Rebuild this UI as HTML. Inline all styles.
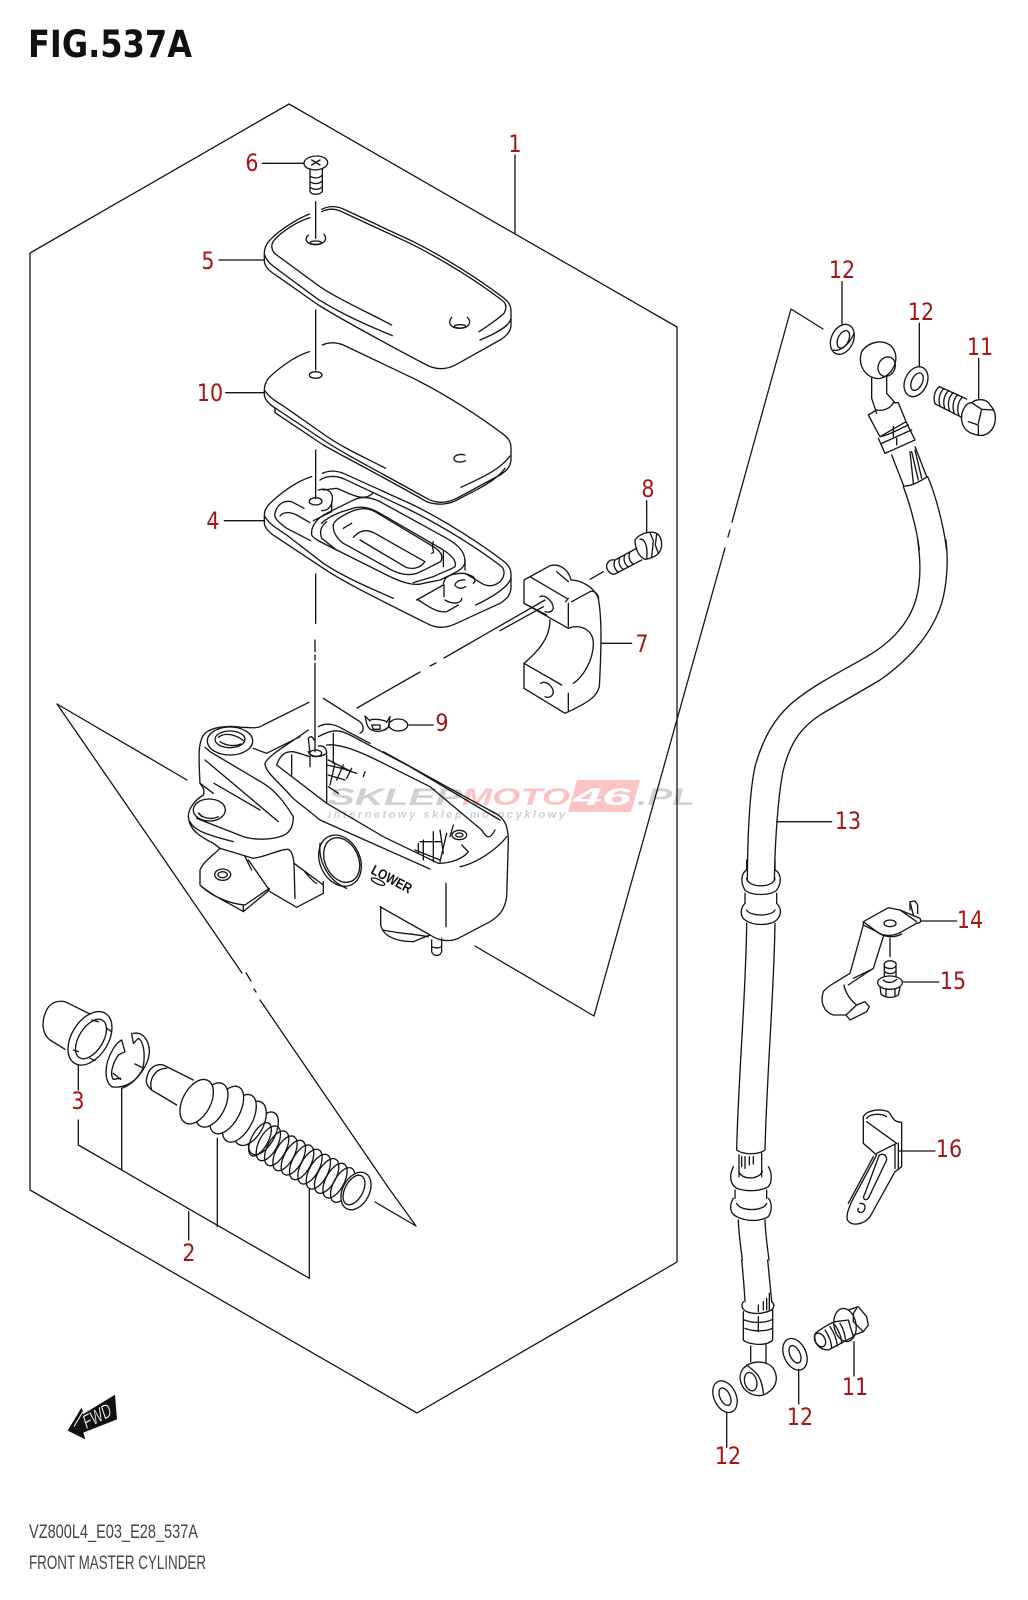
<!DOCTYPE html>
<html><head><meta charset="utf-8"><style>
html,body{margin:0;padding:0;background:#fff}
svg{display:block}
.l{fill:none;stroke:#151515;stroke-width:1.3;stroke-linecap:round;stroke-linejoin:round}
.z{fill:none;stroke:#151515;stroke-width:4;stroke-linecap:round;stroke-linejoin:round}
.w{fill:#fff}
.n{font-family:"DejaVu Sans",sans-serif;font-size:24px;fill:#a51515;text-anchor:middle}
</style></head><body>
<svg width="1028" height="1600" viewBox="0 0 1028 1600" xmlns="http://www.w3.org/2000/svg">
<rect width="1028" height="1600" fill="#fff"/>
<!-- watermark -->
<g font-family="'Liberation Sans',sans-serif" font-style="italic" font-weight="bold">
<polygon points="577,780 640,780 631,812 568,812" fill="#fbc4c4"/>
<text x="328" y="805" font-size="24" fill="#d0d0d0" textLength="134" lengthAdjust="spacingAndGlyphs">SKLEP</text>
<text x="462" y="805" font-size="24" fill="#fbc4c4" textLength="108" lengthAdjust="spacingAndGlyphs">MOTO</text>
<text x="573" y="805" font-size="24" fill="#fff" textLength="58" lengthAdjust="spacingAndGlyphs">46</text>
<text x="637" y="805" font-size="24" fill="#d0d0d0" textLength="58" lengthAdjust="spacingAndGlyphs">.PL</text>
<text x="328" y="818" font-size="11" fill="#cfcfcf" textLength="237">internetowy sklep motocyklowy</text>
</g>
<!-- frame -->
<path class="l" d="M30,253 L289,104 L677,327 L677,1262 L417,1413 L30,1190 Z"/>
<path class="l" d="M57,704 L187,780 M57,704 L170,868 M170,868 L242,973 M260,1000 L390,1190 L416,1226 L375,1202"/>
<path class="l" d="M246,973 L251,981 M254,989 L256,992"/>
<path class="l" d="M823,329 L791,309 L732,522 M730,530 L728,537 M725,548 L594,1016 L475,946"/>
<path class="l" d="M545,600 L444,658 M436,663 L430,666 M420,672 L357,708"/>
<!-- zoom1 cover parts -->
<g transform="translate(180 130) scale(.33333)">
<g class="z">
<path d="M117,390H253 M137,788H253 M133,1172H253 M247,100H372 M1005,75V310"/>
<path d="M407,215V325 M407,540V720 M407,960V1105 M407,1332V1480"/>
<!-- screw -->
<path d="M372,100 C372,85 395,78 410,78 C430,78 443,88 443,98 C443,108 430,118 407,120 C385,118 372,112 372,100Z"/>
<path d="M395,90L420,105M420,90L395,105"/>
<path d="M390,120V185C395,195 420,195 427,185V115M390,138C400,146 418,146 427,135M390,155C400,163 418,163 427,152M390,172C400,180 418,180 427,170"/>
<!-- cap 5 -->
<path d="M388,252C345,270 300,300 275,325C258,340 253,355 253,370L253,395C255,410 270,425 290,437L415,525C480,565 560,610 740,705C770,720 800,720 830,703L960,630C985,615 993,600 993,585L993,545C993,525 985,515 970,503C900,450 800,385 700,335L490,237C465,226 445,228 425,238"/>
<path d="M390,263C350,275 305,305 283,330C270,345 275,365 290,375L420,470C480,510 560,545 635,585"/>
<path d="M253,372C260,395 275,405 295,420L410,505C480,550 560,585 637,617"/>
<path d="M425,245C445,235 465,235 485,245L690,340C800,395 900,460 965,510C980,520 980,535 972,550C950,570 920,590 897,605"/>
<path d="M993,565C990,585 960,605 900,630"/>
<path d="M385,315C372,328 378,343 407,344C430,343 445,330 432,313"/>
<ellipse cx="407" cy="338" rx="17" ry="5"/>
<path d="M815,562C800,580 815,595 838,595C865,595 878,578 862,562"/>
<ellipse cx="840" cy="589" rx="17" ry="5"/>
<!-- gasket 10 -->
<path d="M388,665C340,680 290,720 265,745C255,760 253,770 253,780L253,795C255,810 270,825 290,837L430,930C490,970 560,1005 740,1105C770,1122 800,1120 830,1105L960,1035C985,1020 993,1005 993,985L993,955C993,935 985,925 970,913C900,860 800,795 700,745L490,645C465,635 445,637 427,645"/>
<path d="M255,783C270,805 295,818 320,835L430,912C490,955 560,985 617,1015"/>
<path d="M843,1072C900,1045 960,1020 990,978"/>
<path d="M285,835V848L430,945C500,985 600,1035 740,1115C770,1127 810,1125 840,1105C900,1075 950,1050 975,1015"/>
<ellipse cx="407" cy="735" rx="19" ry="10"/>
<path d="M855,975C835,970 820,978 822,988C825,998 845,998 857,992"/>
<!-- gasket 4 -->
<path d="M395,1040C345,1055 295,1095 265,1125C253,1140 253,1150 253,1160L253,1180C255,1195 270,1210 290,1222L430,1315C490,1355 560,1390 740,1480C770,1497 800,1495 830,1480L960,1420C985,1405 993,1390 993,1370L993,1335C993,1315 985,1305 970,1293C900,1240 800,1175 700,1125L490,1030C465,1020 445,1022 427,1030"/>
<path d="M255,1160C270,1185 295,1198 320,1215L430,1300C490,1340 560,1370 640,1405"/>
<path d="M993,1345C985,1370 940,1400 887,1425"/>
<path d="M420,1050C440,1036 470,1036 495,1048L690,1140C800,1195 900,1260 965,1310C975,1320 975,1340 960,1355C945,1368 925,1372 905,1360L855,1330"/>
<path d="M285,1150C290,1125 310,1110 335,1115L372,1135M300,1158C310,1145 330,1145 350,1155L390,1178M285,1150C280,1165 300,1180 320,1195L392,1232"/>
<path d="M415,1080C440,1072 465,1085 455,1120C450,1135 440,1142 425,1142M455,1115V1145L400,1172M430,1080L470,1075C500,1085 550,1120 578,1090"/>
<ellipse cx="407" cy="1114" rx="19" ry="11"/>
<path d="M395,1215C392,1190 410,1165 440,1150L525,1108C550,1098 575,1103 600,1115L800,1225C835,1245 855,1265 855,1295C855,1320 810,1335 780,1350L730,1360C700,1370 660,1355 620,1335L440,1245C420,1235 400,1225 395,1215Z"/>
<path d="M424,1180C440,1165 460,1155 480,1147L525,1133C550,1128 575,1135 600,1150L790,1260C820,1280 830,1295 825,1310C810,1320 790,1325 760,1340L700,1358"/>
<path d="M472,1262L425,1225C418,1205 422,1190 440,1175"/>
<path d="M460,1185C462,1170 490,1155 520,1142C550,1132 570,1135 590,1148L760,1250C785,1265 790,1280 782,1295C760,1305 740,1318 710,1330C680,1340 650,1330 620,1312L490,1240C470,1225 458,1205 460,1185Z"/>
<path d="M490,1195L515,1180M520,1222C545,1195 565,1200 585,1210L735,1295C720,1315 700,1318 680,1313L540,1230"/>
<path d="M755,1270C770,1265 750,1260 760,1235M790,1265V1310M855,1290V1320"/>
<path d="M710,1410L790,1365C790,1340 815,1330 850,1330C875,1335 895,1345 880,1360M792,1365V1400M795,1410C820,1425 845,1420 845,1405"/>
<path d="M855,1350C835,1348 825,1360 825,1365C830,1375 845,1378 857,1370"/>
<path d="M715,1410C740,1425 770,1450 800,1445L835,1425"/>
</g>
</g>
<!-- clamp / bolt -->
<g transform="translate(500 470) scale(.33333)" class="z">
<path d="M440,92V185"/>
<path d="M395,520H305"/>
<path d="M72,330L150,287C175,280 205,295 213,330C235,330 280,345 295,385C305,440 305,520 298,650C290,680 270,695 195,730L72,655V580C120,540 150,500 150,450M72,330V400L205,475C240,460 280,480 280,520C280,570 250,620 220,640"/>
<path d="M90,320L200,385M72,400L140,435M170,305L205,335M215,395L270,365C285,360 295,375 296,385M205,400V470M205,385L197,395"/>
<path d="M72,580L185,645M205,670V725"/>
<path d="M120,380C135,372 160,395 160,415C155,428 145,428 135,425"/>
<path d="M122,640C138,630 160,650 160,668C155,685 140,683 135,680"/>
<path d="M270,328L310,305"/>
<path d="M320,285C325,270 335,268 345,270L410,235M345,312L425,270M320,285C318,300 332,315 345,312"/>
<path d="M345,270C338,285 345,300 355,306M360,262C353,277 360,292 370,298M375,254C368,269 375,284 385,290M390,246C383,261 390,276 400,282"/>
<path d="M405,210C415,195 445,180 470,190C490,205 490,240 470,255C460,262 445,268 435,268C420,262 405,240 405,210Z"/>
<path d="M420,208C432,205 445,225 440,265M450,188L460,212L455,262M470,192L466,225L475,250"/>
<path d="M0,482L130,410"/>
</g>
<!-- body -->
<g transform="translate(170 640) scale(.33333)" class="z">
<path d="M435,0V35 M435,45V60 M435,70V335"/>
<path d="M713,255H790"/>
<path d="M490,280V370"/>
<!-- bracket upper -->
<path d="M417,187L280,255C260,268 240,262 215,262C170,255 125,262 105,280C85,300 85,340 90,430C100,445 105,450 100,465C75,480 55,505 55,530C58,570 90,590 130,610L150,625L250,655C290,650 335,625 355,628C365,632 370,650 372,670"/>
<path d="M460,175L570,245C585,260 580,275 570,280"/>
<ellipse cx="180" cy="303" rx="68" ry="42"/>
<ellipse cx="180" cy="298" rx="45" ry="25"/>
<path d="M145,292C165,275 200,285 220,302M150,305C170,318 195,320 212,312"/>
<path d="M105,322L120,335L280,430C320,455 345,490 370,530C370,570 350,585 330,590C300,600 250,600 220,590L80,535"/>
<path d="M105,360L325,545M132,430L270,510M90,430L130,460M250,325L290,340L390,290"/>
<ellipse cx="118" cy="510" rx="48" ry="33"/>
<path d="M85,520C100,535 125,540 145,530M95,530L88,520"/>
<path d="M60,545C70,570 110,585 190,605"/>
<!-- lower lug -->
<path d="M150,625C125,650 100,665 90,690L90,735C130,770 180,790 220,815L298,750L235,660M90,735C120,765 170,790 225,795L298,745M220,795V815"/>
<ellipse cx="158" cy="704" rx="24" ry="17"/>
<ellipse cx="158" cy="704" rx="14" ry="9"/>
<path d="M225,650C230,660 240,680 245,690M300,755L380,802L460,760V725M372,670L375,775M372,670L460,735M400,690C420,715 430,725 440,730"/>
<!-- reservoir -->
<path d="M285,370C295,345 360,310 415,270M445,260C470,245 500,255 520,268L600,310M640,335L830,440L985,525C1005,540 1015,560 1015,605L1010,770C1005,810 985,830 960,845L865,895C840,905 810,905 780,885L630,800"/>
<path d="M285,370C285,395 320,420 360,465C365,475 390,490 450,540L780,687"/>
<path d="M320,375C330,345 345,335 365,335C380,335 400,345 420,350M320,375L470,490L640,590L805,670C845,670 880,655 895,635L875,615"/>
<path d="M445,290C490,265 510,270 540,285L720,380L990,540"/>
<path d="M470,315C510,310 570,335 620,360L780,440L935,570C950,595 960,600 975,570"/>
<path d="M870,680C920,670 985,625 1010,590"/>
<path d="M420,340L415,295C420,290 425,285 432,300"/>
<path d="M415,335C418,350 450,355 470,340C470,325 460,315 445,318"/>
<ellipse cx="437" cy="340" rx="18" ry="10"/>
<path d="M420,350V380M470,345V490M365,345V405"/>
<path d="M470,375L515,385L560,400M475,360L545,395M495,370L480,435M520,375L500,420M545,385L530,415M585,395L580,410M475,440L505,460M475,405L525,420"/>
<path d="M745,610V640M760,600V660M790,575V665M810,570L820,640M830,580L810,665M750,605H815M735,630L810,660M850,555L840,590"/>
<ellipse cx="868" cy="585" rx="22" ry="14"/>
<ellipse cx="868" cy="585" rx="11" ry="6"/>
<!-- sight window -->
<ellipse cx="510" cy="662" rx="60" ry="80" transform="rotate(-25 510 662)"/>
<ellipse cx="515" cy="660" rx="50" ry="70" transform="rotate(-25 515 660)"/>
<path d="M450,610C445,660 470,720 530,745"/>
<path d="M828,730V860M632,800V855C640,890 680,905 730,905L780,885"/>
<path d="M640,870C680,880 720,880 775,890"/>
<path d="M785,900V935C790,950 810,950 815,935V895M785,920C795,925 805,925 815,920"/>
<ellipse cx="624" cy="725" rx="22" ry="7" transform="rotate(25 624 725)"/>
<!-- clip 9 -->
<path d="M585,228C590,250 590,262 605,270C625,280 645,270 655,262L660,230M600,240C615,235 640,240 650,245M605,255L630,255V268H610Z"/>
<ellipse cx="685" cy="255" rx="28" ry="18"/>
<path d="M655,262L645,270M585,228L600,243M660,230L650,247"/>
</g>
<g font-family="'Liberation Sans',sans-serif" font-weight="bold" fill="#111">
<text transform="translate(370 873) rotate(28)" font-size="14" textLength="44" lengthAdjust="spacingAndGlyphs">LOWER</text>
</g>
<!-- boot, circlip, piston, spring -->
<g transform="translate(30 990) scale(.33333)" class="z">
<path d="M145,225V300 M145,390V465L838,865V595 M275,295V540 M562,445V710 M476,665V750"/>
<path d="M105,178L60,150C40,135 30,100 50,60C60,40 80,30 105,35L180,72"/>
<ellipse cx="180" cy="145" rx="55" ry="88" transform="rotate(32 180 145)"/>
<ellipse cx="183" cy="147" rx="36" ry="66" transform="rotate(32 183 147)"/>
<path d="M185,90L205,95M230,115L245,125M130,180L145,185M180,205L195,212"/>
<path d="M305,130L310,160L325,145C350,160 345,240 330,250C310,285 270,295 245,290C220,270 225,220 245,185C255,165 265,155 275,150L285,185L265,195C245,225 240,255 250,268L272,265"/>
<path d="M310,130C335,125 355,145 358,180C360,220 320,280 275,295M315,222L335,232M250,250L272,268"/>
<path d="M440,345L385,312C360,300 345,285 350,265C355,235 375,220 400,225L490,270"/>
<path d="M365,300C355,270 375,235 410,235"/>
<g class="w">
<ellipse cx="700" cy="430" rx="35" ry="70" transform="rotate(28 700 430)"/>
<ellipse cx="660" cy="400" rx="40" ry="72" transform="rotate(28 660 400)"/>
<ellipse cx="628" cy="385" rx="40" ry="78" transform="rotate(28 628 385)"/>
<ellipse cx="590" cy="360" rx="40" ry="78" transform="rotate(28 590 360)"/>
<ellipse cx="545" cy="345" rx="40" ry="72" transform="rotate(28 545 345)"/>
<ellipse cx="500" cy="335" rx="42" ry="72" transform="rotate(28 500 335)"/>
</g>
<g>
<ellipse cx="690" cy="448" rx="25" ry="55" transform="rotate(28 690 448)"/>
<ellipse cx="715" cy="460" rx="28" ry="57" transform="rotate(28 715 460)"/>
<ellipse cx="740" cy="475" rx="28" ry="57" transform="rotate(28 740 475)"/>
<ellipse cx="765" cy="490" rx="28" ry="57" transform="rotate(28 765 490)"/>
<ellipse cx="790" cy="503" rx="28" ry="57" transform="rotate(28 790 503)"/>
<ellipse cx="815" cy="517" rx="28" ry="57" transform="rotate(28 815 517)"/>
<ellipse cx="840" cy="530" rx="28" ry="57" transform="rotate(28 840 530)"/>
<ellipse cx="865" cy="545" rx="28" ry="57" transform="rotate(28 865 545)"/>
<ellipse cx="890" cy="558" rx="28" ry="57" transform="rotate(28 890 558)"/>
<ellipse cx="915" cy="572" rx="28" ry="57" transform="rotate(28 915 572)"/>
<ellipse cx="938" cy="585" rx="28" ry="57" transform="rotate(28 938 585)"/>
</g>
<ellipse cx="978" cy="603" rx="40" ry="60" transform="rotate(28 978 603)" class="w"/>
<ellipse cx="972" cy="600" rx="27" ry="48" transform="rotate(28 972 600)"/>
</g>
<!-- upper hose end -->
<g transform="translate(780 250) scale(.33333)" class="z">
<path d="M186,95V225 M418,220V350 M596,325V445"/>
<ellipse cx="187" cy="268" rx="33" ry="47" transform="rotate(25 187 268)"/>
<ellipse cx="190" cy="268" rx="16" ry="28" transform="rotate(25 190 268)"/>
<path d="M160,300C175,305 205,290 222,250"/>
<ellipse cx="408" cy="395" rx="33" ry="47" transform="rotate(25 408 395)"/>
<ellipse cx="411" cy="395" rx="16" ry="28" transform="rotate(25 411 395)"/>
<path d="M272,380C245,365 235,335 245,305C265,275 310,265 335,290C360,320 345,360 315,380C295,390 285,385 272,380Z"/>
<ellipse cx="320" cy="350" rx="25" ry="30" transform="rotate(25 320 350)"/>
<path d="M275,385V445L290,490M320,378V430L345,458"/>
<path d="M265,495L290,480C315,485 335,470 340,458L355,458L378,515L300,560Z"/>
<path d="M378,515L405,570L315,610L295,565M300,560C330,555 360,535 385,525M305,580C340,565 370,550 395,540"/>
<path d="M340,530V560M350,565V585M335,615L370,705M405,590L440,680"/>
<path d="M370,708C390,710 420,695 442,680M390,605L400,700M395,605L415,690M405,600L425,685"/>
<path d="M370,710C385,750 410,830 418,900M443,680C465,730 490,820 500,900"/>
<!-- banjo bolt -->
<path d="M478,410L560,447M466,462L545,502"/>
<path d="M478,410C460,425 460,450 466,462M492,416C475,431 475,456 481,470M506,422C489,437 489,462 495,477M520,428C503,443 503,468 509,484M534,434C517,449 517,474 523,491M548,441C531,456 531,481 537,497"/>
<path d="M575,458C590,445 620,445 630,465C655,490 650,535 620,552C605,560 585,555 570,548C545,535 535,500 555,470C560,462 568,458 575,458Z"/>
<path d="M605,478L640,480M565,515L595,525V555M605,478L595,520M575,458L605,478"/>
</g>
<!-- main hose -->
<g transform="translate(720 540) scale(.33333)" class="z">
<path d="M593,0C600,50 605,110 590,170C570,250 510,310 440,350C380,385 300,425 240,470C170,520 130,590 105,680C90,750 83,870 82,1020"/>
<path d="M678,0C685,60 682,130 665,190C640,270 580,350 480,420C430,450 350,495 300,525C240,565 210,610 190,690C175,760 165,900 163,1020"/>
<path d="M170,845H335"/>
</g>
<g transform="translate(720 860) scale(.33333)" class="z">
<path d="M80,0V30M165,0V30"/>
<path d="M80,30C62,40 62,70 75,90C90,108 155,108 170,90C185,70 185,40 165,30M80,55C85,85 160,85 165,55"/>
<path d="M75,100V130M170,100V130"/>
<path d="M75,130C60,145 60,170 75,180C100,198 150,198 170,180C185,165 185,145 170,130M80,150C90,170 155,170 165,150"/>
<path d="M80,190C78,400 55,650 50,870M165,190C162,400 140,650 135,870"/>
<path d="M50,870C70,885 115,885 135,870M57,885V950M125,880V950M65,890V920M75,890V925M88,890V915M100,890V912"/>
<path d="M40,920C28,945 28,970 50,985C80,995 120,995 145,980C158,965 155,935 145,920M57,935C65,960 115,960 127,935"/>
<path d="M45,990V1015M140,990V1015"/>
<path d="M40,1015C28,1035 28,1060 50,1070C80,1085 120,1085 145,1070C158,1050 155,1025 145,1015M50,1030C60,1055 130,1055 140,1030"/>
<path d="M55,1080C56,1120 62,1160 67,1200M135,1080C136,1120 142,1160 147,1200"/>
<!-- 14 -->
<path d="M603,183H710M550,366H657M510,235V290"/>
<path d="M430,185L505,143L540,150L600,175C605,185 600,190 590,190L545,215C520,230 490,230 470,215ZM430,185V195L390,340C350,365 320,380 310,395C300,425 310,455 340,465L378,465L390,480L440,455L448,440L435,425L410,435C390,420 375,395 372,375"/>
<path d="M430,195L470,215C490,232 520,235 545,222M490,230L460,325L385,375M400,355L455,328M378,465L410,435M540,150L590,185"/>
<path d="M570,150V125L585,123L593,135V160M570,125L580,165"/>
<ellipse cx="510" cy="190" rx="18" ry="10"/>
<!-- 15 -->
<path d="M493,350V310C500,300 520,300 528,310V350M493,320C505,328 520,328 528,318M493,335C505,343 520,343 528,333"/>
<ellipse cx="510" cy="368" rx="37" ry="20"/>
<path d="M480,380L483,402C495,415 520,415 535,405L540,382M498,388V410M525,388V408"/>
<path d="M490,360C500,370 520,370 530,358"/>
<!-- 16 -->
<path d="M538,873H645"/>
<path d="M430,770C440,750 480,745 505,755C520,770 515,785 545,787V920L525,935L450,1070C430,1095 395,1100 382,1080C378,1060 390,1035 400,1015L470,885L430,850V770Z"/>
<path d="M440,785L530,850L470,880M535,850V925M525,855V925M460,890L385,1030M478,885C490,880 500,885 500,900L445,1015C435,1025 425,1015 435,1000Z"/>
<path d="M420,1030C435,1030 440,1040 430,1055C420,1060 410,1055 415,1045"/>
<path d="M440,775C450,760 485,760 500,770"/>
</g>
<!-- lower hose end -->
<g transform="translate(700 1260) scale(.33333)" class="z">
<path d="M125,0C130,50 133,90 135,125M203,0C208,50 212,90 215,125"/>
<path d="M130,125C120,140 130,150 140,155C165,165 195,160 215,150C225,140 222,130 215,125M175,135V155M190,125V150M200,115V150M208,100V150"/>
<path d="M130,155V240C145,255 200,260 218,240V150"/>
<path d="M133,180C160,190 195,190 218,178M135,205C160,215 195,215 218,205M175,170V215"/>
<path d="M152,258V305M198,255V310"/>
<path d="M130,325C155,300 200,300 220,325C240,360 225,390 190,405C160,412 130,395 122,365C118,350 122,335 130,325Z"/>
<ellipse cx="152" cy="365" rx="18" ry="28" transform="rotate(-15 152 365)"/>
<path d="M140,315C165,335 185,345 190,400"/>
<ellipse cx="75" cy="410" rx="33" ry="50" transform="rotate(-25 75 410)"/>
<ellipse cx="75" cy="410" rx="15" ry="28" transform="rotate(-25 75 410)"/>
<ellipse cx="285" cy="283" rx="33" ry="50" transform="rotate(-25 285 283)"/>
<ellipse cx="285" cy="283" rx="15" ry="28" transform="rotate(-25 285 283)"/>
<path d="M80,458V562 M296,328V432 M462,245V348"/>
<!-- bolt -->
<path d="M345,222C350,215 380,195 405,185L445,180L460,230L385,270C360,270 340,250 345,222Z"/>
<ellipse cx="360" cy="240" rx="15" ry="22" transform="rotate(-30 360 240)"/>
<path d="M375,210C385,225 395,245 395,265M390,200C400,215 410,235 412,258M405,195C415,210 425,230 425,250M420,190C430,205 435,225 437,242"/>
<ellipse cx="435" cy="195" rx="33" ry="50" transform="rotate(-10 435 195)"/>
<path d="M445,150L475,140L500,170L505,195L490,215L462,225M470,145L460,160V185L490,215"/>
</g>
<!-- FWD arrow -->
<g transform="translate(0 1390) scale(.33333)">
<polygon points="203,122 245,52 250,72 345,14 351,88 250,128 256,148" fill="#111"/>
<path d="M222,110L248,66" stroke="#fff" stroke-width="3" fill="none"/>
<text transform="translate(258 118) rotate(-28) skewX(-10)" font-family="'Liberation Sans',sans-serif" font-size="58" fill="#fff" stroke="#111" stroke-width="1" textLength="90" lengthAdjust="spacingAndGlyphs">FWD</text>
</g>
<!-- labels -->
<g class="n">
<text transform="translate(515 152) scale(.86 1)">1</text>
<text transform="translate(252 171) scale(.86 1)">6</text>
<text transform="translate(208 269) scale(.86 1)">5</text>
<text transform="translate(210 401) scale(.86 1)">10</text>
<text transform="translate(213 529) scale(.86 1)">4</text>
<text transform="translate(648 497) scale(.86 1)">8</text>
<text transform="translate(642 652) scale(.86 1)">7</text>
<text transform="translate(442 731) scale(.86 1)">9</text>
<text transform="translate(78 1109) scale(.86 1)">3</text>
<text transform="translate(189 1261) scale(.86 1)">2</text>
<text transform="translate(842 278) scale(.86 1)">12</text>
<text transform="translate(921 320) scale(.86 1)">12</text>
<text transform="translate(980 355) scale(.86 1)">11</text>
<text transform="translate(848 829) scale(.86 1)">13</text>
<text transform="translate(970 928) scale(.86 1)">14</text>
<text transform="translate(953 989) scale(.86 1)">15</text>
<text transform="translate(949 1157) scale(.86 1)">16</text>
<text transform="translate(855 1395) scale(.86 1)">11</text>
<text transform="translate(800 1425) scale(.86 1)">12</text>
<text transform="translate(728 1464) scale(.86 1)">12</text>
</g>
<!-- titles -->
<text x="28" y="57" font-family="'DejaVu Sans',sans-serif" font-weight="bold" font-size="37" fill="#111" textLength="164" lengthAdjust="spacingAndGlyphs">FIG.537A</text>
<text x="29" y="1538" font-family="'Liberation Sans',sans-serif" font-size="19" fill="#444" textLength="169" lengthAdjust="spacingAndGlyphs">VZ800L4_E03_E28_537A</text>
<text x="29" y="1569" font-family="'Liberation Sans',sans-serif" font-size="19" fill="#444" textLength="177" lengthAdjust="spacingAndGlyphs">FRONT MASTER CYLINDER</text>
</svg>
</body></html>
